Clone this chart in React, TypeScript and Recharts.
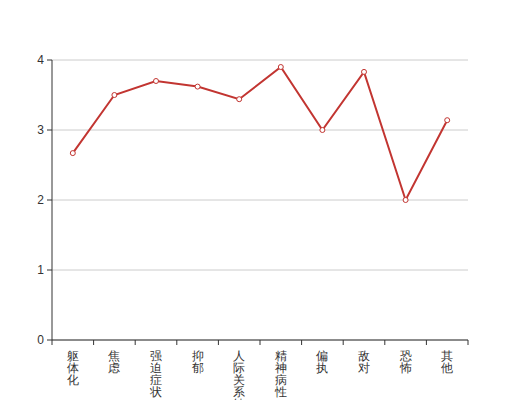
import React from 'react';
import { LineChart, Line, XAxis, YAxis, CartesianGrid } from 'recharts';

const categories = ['躯体化', '焦虑', '强迫症状', '抑郁', '人际关系敏感', '精神病性', '偏执', '敌对', '恐怖', '其他'];
const scores = [2.67, 3.5, 3.7, 3.62, 3.44, 3.9, 3.0, 3.83, 2.0, 3.14];
const yTicks = [0, 1, 2, 3, 4];
const boundaryTicks = categories.map((_, i) => i).concat([categories.length]);

const data = categories.map((name, i) => ({ name, pos: i + 0.5, value: scores[i] }));
const centerTicks = data.map((d) => d.pos);

const RED = '#c23531';
const TEXT = '#333';

const VerticalTick = (props: any) => {
  const { x, y, payload } = props;
  const label = categories[Math.floor(payload.value)] || '';
  const chars = label.split('');
  return (
    <text x={x} y={y} textAnchor="middle" fontSize={12} fill={TEXT} fontFamily="sans-serif">
      {chars.map((c, i) => (
        <tspan key={i} x={x} dy={i === 0 ? '0.9em' : 12}>
          {c}
        </tspan>
      ))}
    </text>
  );
};

export default function App() {
  return (
    <div style={{ position: 'absolute', left: 0, top: 0 }}>
      <LineChart width={520} height={400} data={data} margin={{ top: 60, right: 52, left: 0, bottom: 0 }}>
        <CartesianGrid vertical={false} stroke="#ccc" />
        <XAxis
          xAxisId="bounds"
          type="number"
          dataKey="pos"
          domain={[0, categories.length]}
          ticks={boundaryTicks}
          interval={0}
          tickFormatter={() => ''}
          height={1}
          tickSize={5}
          stroke={TEXT}
          axisLine={{ stroke: TEXT }}
          tickLine={{ stroke: TEXT }}
        />
        <XAxis
          xAxisId="labels"
          type="number"
          dataKey="pos"
          domain={[0, categories.length]}
          ticks={centerTicks}
          interval={0}
          height={59}
          axisLine={false}
          tickLine={false}
          tick={<VerticalTick />}
        />
        <YAxis
          width={52}
          domain={[0, 4]}
          ticks={yTicks}
          tickSize={5}
          tickMargin={3}
          stroke={TEXT}
          axisLine={{ stroke: TEXT }}
          tickLine={{ stroke: TEXT }}
          tick={{ fill: TEXT, fontSize: 12, fontFamily: 'sans-serif' }}
        />
        <Line
          xAxisId="bounds"
          type="linear"
          dataKey="value"
          stroke={RED}
          strokeWidth={2}
          dot={{ r: 2.5, fill: '#fff', stroke: RED, strokeWidth: 1 }}
          isAnimationActive={false}
        />
      </LineChart>
    </div>
  );
}
